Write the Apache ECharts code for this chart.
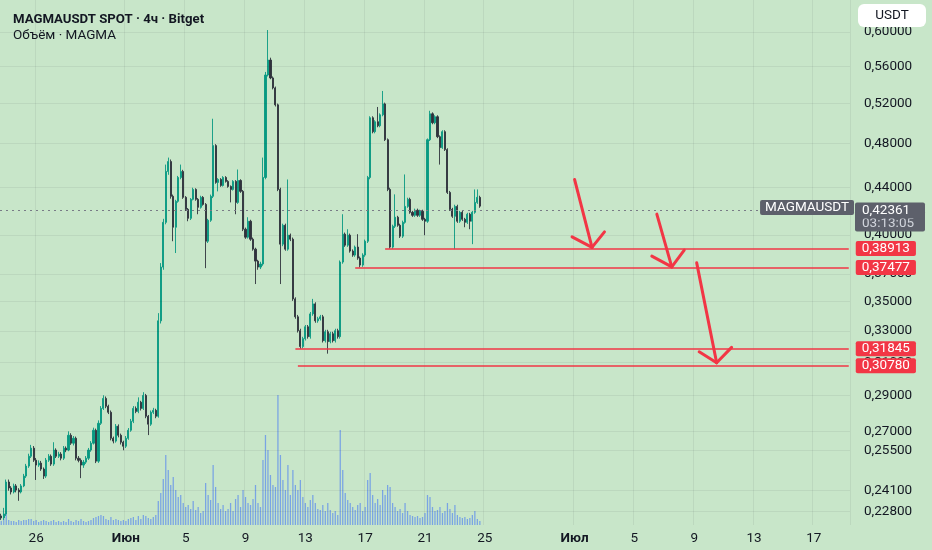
<!DOCTYPE html>
<html><head><meta charset="utf-8">
<script src="https://cdn.jsdelivr.net/npm/echarts@6/dist/echarts.min.js"></script>
<style>html,body{margin:0;padding:0;background:#c8e6c9}#c{width:932px;height:550px}</style>
</head><body><div id="c"></div><script>
// ---------- DATA ----------
const slotStart = Date.UTC(2025, 4, 23, 16); // first 4h slot: 23 May 16:00
const slotCount = 341;
const categories = [];
for (let i = 0; i < slotCount; i++) {
  const d = new Date(slotStart + i * 4 * 3600 * 1000);
  const p = n => String(n).padStart(2, '0');
  categories.push(p(d.getUTCMonth() + 1) + '-' + p(d.getUTCDate()) + ' ' + p(d.getUTCHours()) + ':00');
}
const xTickCats = ['05-26 00:00','06-01 00:00','06-05 00:00','06-09 00:00','06-13 00:00','06-17 00:00','06-21 00:00','06-25 00:00','07-01 00:00','07-05 00:00','07-09 00:00','07-13 00:00','07-17 00:00'];
const xTickLabels = ['26','Июн','5','9','13','17','21','25','Июл','5','9','13','17'];
const yTicks = [0.228,0.241,0.255,0.27,0.29,0.31,0.33,0.35,0.37,0.40,0.44,0.48,0.52,0.56,0.60];

const opens = [
.2280,.2271,.2289,.2440,.2411,.2392,.2421,.2401,.2392,.2421,
.2469,.2519,.2569,.2611,.2549,.2524,.2534,.2504,.2469,.2549,
.2569,.2529,.2601,.2569,.2580,.2559,.2611,.2601,.2679,.2637,
.2663,.2559,.2548,.2524,.2539,.2559,.2601,.2637,.2706,.2544,
.2744,.2827,.2884,.2839,.2805,.2663,.2648,.2728,.2679,.2642,
.2621,.2663,.2706,.2755,.2827,.2810,.2862,.2827,.2901,.2783,
.2739,.2805,.2816,.2783,.3368,.3750,.4101,.4540,.4631,.4320,
.4061,.4277,.4486,.4540,.4311,.4209,.4134,.4294,.4380,.4294,
.4226,.4311,.4251,.3949,.4118,.4320,.4781,.4442,.4468,.4415,
.4486,.4451,.4406,.4380,.4451,.4268,.4459,.4363,.4045,.3981,
.4110,.3965,.3887,.3795,.3750,.3773,.4486,.5506,.5673,.5474,
.5366,.5187,.4380,.3926,.4077,.3887,.3997,.3965,.3519,.3395,
.3302,.3199,.3250,.3328,.3263,.3415,.3484,.3368,.3382,.3395,
.3237,.3295,.3231,.3282,.3237,.3302,.3263,.3788,.4005,.3918,
.3997,.3872,.3841,.3903,.3818,.3765,.3841,.3949,.4486,.5055,
.4916,.5015,.4975,.5085,.5197,.4838,.4380,.3903,.4069,.4143,
.4077,.3989,.4101,.4234,.4294,.4184,.4159,.4201,.4159,.4193,
.4126,.4110,.4838,.5095,.5005,.5065,.4867,.4762,.4916,.4743,
.4354,.4209,.4151,.4234,.4110,.4184,.4126,.4101,.4168,.4110,
.4184,.4268,.4311];
const closes = [
.2271,.2289,.2440,.2411,.2392,.2421,.2401,.2392,.2421,.2469,
.2519,.2569,.2611,.2549,.2524,.2534,.2504,.2469,.2549,.2569,
.2529,.2601,.2569,.2580,.2559,.2611,.2601,.2679,.2637,.2663,
.2559,.2548,.2524,.2539,.2559,.2601,.2637,.2706,.2544,.2744,
.2827,.2884,.2839,.2805,.2663,.2648,.2728,.2679,.2642,.2621,
.2663,.2706,.2755,.2827,.2810,.2862,.2827,.2901,.2783,.2739,
.2805,.2816,.2783,.3368,.3750,.4101,.4540,.4631,.4320,.4061,
.4277,.4486,.4540,.4311,.4209,.4134,.4294,.4380,.4294,.4226,
.4311,.4251,.3949,.4118,.4320,.4781,.4442,.4468,.4415,.4486,
.4451,.4406,.4380,.4451,.4268,.4459,.4363,.4045,.3981,.4110,
.3965,.3887,.3795,.3750,.3773,.4486,.5506,.5673,.5474,.5366,
.5187,.4380,.3926,.4077,.3887,.3997,.3965,.3519,.3395,.3302,
.3199,.3250,.3328,.3263,.3415,.3484,.3368,.3382,.3395,.3237,
.3295,.3231,.3282,.3237,.3302,.3263,.3788,.4005,.3918,.3997,
.3872,.3841,.3903,.3818,.3765,.3841,.3949,.4486,.5055,.4916,
.5015,.4975,.5085,.5197,.4838,.4380,.3903,.4069,.4143,.4077,
.3989,.4101,.4234,.4294,.4184,.4159,.4201,.4159,.4193,.4126,
.4110,.4838,.5095,.5005,.5065,.4867,.4762,.4916,.4743,.4354,
.4209,.4151,.4234,.4110,.4184,.4126,.4101,.4168,.4110,.4184,
.4268,.4311,.42361];
const lows = [
.2262,.2262,.2280,.2398,.2380,.2385,.2390,.2350,.2385,.2415,
.2460,.2510,.2560,.2540,.2450,.2515,.2495,.2455,.2460,.2540,
.2520,.2520,.2560,.2560,.2548,.2550,.2590,.2595,.2628,.2625,
.2548,.2538,.2459,.2510,.2530,.2550,.2592,.2630,.2534,.2535,
.2735,.2818,.2828,.2795,.2652,.2636,.2640,.2668,.2630,.2600,
.2612,.2655,.2698,.2745,.2800,.2800,.2815,.2818,.2772,.2680,
.2730,.2795,.2772,.2775,.3350,.3730,.4085,.4510,.4300,.3949,
.3857,.4265,.4470,.4298,.4195,.4110,.4120,.4285,.4282,.4168,
.4215,.4240,.3742,.3935,.4105,.4305,.4430,.4363,.4403,.4405,
.4440,.4395,.4268,.4370,.4168,.4255,.4350,.4030,.3968,.3970,
.3952,.3875,.3625,.3730,.3735,.3760,.4470,.5490,.5460,.5350,
.5170,.4365,.3625,.3910,.3875,.3875,.3950,.3505,.3382,.3290,
.31845,.3188,.3238,.3250,.3250,.3402,.3355,.3355,.3370,.3225,
.3225,.3154,.3220,.3225,.3225,.3250,.3250,.3775,.3905,.3905,
.3860,.3828,.3828,.3805,.37477,.3752,.3828,.3935,.4470,.4900,
.4900,.4960,.4960,.5070,.4825,.4365,.38913,.3890,.4055,.4065,
.3975,.3975,.4090,.4222,.4172,.4146,.4146,.4146,.4146,.4113,
.3997,.4097,.4825,.4990,.4990,.4853,.4603,.4750,.4730,.4340,
.4196,.4138,.3887,.4097,.4097,.4113,.4061,.4088,.4045,.3926,
.4172,.4255,.4222];
const highs = [
.2290,.2317,.2452,.2452,.2420,.2432,.2430,.2410,.2430,.2480,
.2530,.2582,.2628,.2622,.2560,.2548,.2545,.2512,.2560,.2580,
.2578,.2642,.2610,.2592,.2590,.2622,.2620,.2700,.2690,.2675,
.2672,.2570,.2558,.2550,.2570,.2612,.2648,.2720,.2715,.2760,
.2840,.2902,.2895,.2848,.2815,.2672,.2740,.2738,.2688,.2650,
.2675,.2718,.2768,.2840,.2838,.2890,.2870,.2920,.2910,.2790,
.2815,.2830,.2825,.3420,.3780,.4130,.4603,.4668,.4650,.4335,
.4290,.4500,.4603,.4555,.4322,.4220,.4305,.4395,.4390,.4305,
.4325,.4322,.4262,.4130,.4335,.5045,.4795,.4480,.4480,.4498,
.4498,.4462,.4415,.4462,.4462,.4558,.4470,.4375,.4058,.4143,
.4122,.3978,.3898,.3805,.3790,.4668,.5540,.6024,.5700,.5490,
.5380,.5200,.4395,.4090,.4090,.4468,.4010,.3978,.3530,.3408,
.3315,.3262,.3340,.3340,.3428,.3519,.3495,.3395,.3408,.3408,
.3308,.3308,.3295,.3295,.3315,.3315,.3800,.4168,.4018,.4045,
.4010,.3885,.3915,.4005,.3830,.3855,.3962,.4500,.5070,.5070,
.5030,.5165,.5100,.5333,.5210,.4850,.4395,.4082,.4337,.4155,
.4090,.4115,.4513,.4308,.4308,.4196,.4215,.4215,.4206,.4206,
.4138,.4850,.5126,.5110,.5080,.5080,.4880,.4930,.4930,.4756,
.4367,.4222,.4248,.4248,.4196,.4196,.4138,.4180,.4180,.4196,
.4380,.4380,.4325];
// volume, thousands of MAGMA
const volumes = [
4,6,14,5,4,4,3,5,4,5,
5,6,6,4,5,3,4,5,4,3,
4,5,3,4,3,4,3,6,4,3,
5,4,6,4,3,4,5,7,8,9,
10,9,6,5,8,5,6,5,4,5,
4,6,7,8,5,9,6,10,9,7,
6,8,10,24,32,46,70,55,40,48,
35,28,30,22,18,20,16,24,15,18,
12,14,42,30,25,60,38,22,16,20,
14,16,22,14,26,30,18,35,28,22,
20,26,40,22,18,65,90,75,50,40,
38,130,70,45,35,60,30,55,40,35,
45,28,22,18,25,30,22,16,15,20,
14,22,15,12,14,10,95,55,32,25,
22,18,15,20,22,14,18,45,52,30,
22,26,20,35,30,40,38,22,18,14,
16,12,22,14,10,9,8,9,7,8,
12,30,28,18,14,15,18,12,14,22,
16,12,20,10,8,7,8,6,7,10,
14,6,4];

const lastPrice = 0.42361;
const countdown = '03:13:05';
// support levels: [start slot index, price]
const levelStarts = [154, 142, 118, 119];
const levelPrices = [0.38913, 0.37477, 0.31845, 0.30780];
const levelEnd = 340;
// arrows: tail [slot, price], tip, head-left, head-right
const arrowTails = [[230,0.4468],[263,0.4169],[279,0.3782]];
const arrowTips  = [[237,0.3901],[269,0.3752],[287,0.3097]];
const arrowHeadL = [[229,0.3984],[261,0.3833],[280,0.3166]];
const arrowHeadR = [[242,0.4024],[274,0.3880],[293,0.3194]];

// ---------- CHART ----------
const fmt = v => v.toFixed(5).replace('.', ',');
const candleData = opens.map((o, i) => [o, closes[i], lows[i], highs[i]]);
const tickSet = new Set(xTickCats);
const FONT = 'Roboto, "Noto Sans", sans-serif';
const RED = '#f23645';
const GRID = 'rgba(42,46,57,0.07)';
const TAG = '#5d606b';

const tickLines = yTicks.map(v => ({
  yAxis: v,
  lineStyle: {color: GRID, width: 1, type: 'solid'},
  label: {show: true, position: 'end', distance: 14, formatter: fmt(v), color: '#131722', fontSize: 13.5, fontFamily: FONT}
}));

const annot = [];
// countdown box (drawn first, under the price box)
annot.push({
  yAxis: lastPrice,
  lineStyle: {color: 'rgba(0,0,0,0)', width: 1, type: 'solid'},
  label: {show: true, position: 'end', distance: 5, formatter: countdown, color: '#d1d4dc', fontSize: 13.5, fontFamily: FONT,
    verticalAlign: 'top', backgroundColor: TAG, padding: [7, 7, 2, 7], width: 56, lineHeight: 12, borderRadius: 2}
});
annot.push({
  yAxis: lastPrice,
  lineStyle: {color: '#787b86', width: 1.2, type: [2, 4]},
  label: {show: true, position: 'end', distance: 5, formatter: fmt(lastPrice), color: '#ffffff', fontSize: 13.5, fontFamily: FONT,
    verticalAlign: 'middle', backgroundColor: TAG, padding: [2, 7, 1, 7], width: 56, lineHeight: 13, borderRadius: 2}
});
annot.push({
  yAxis: lastPrice,
  lineStyle: {color: 'rgba(0,0,0,0)', width: 1, type: 'solid'},
  label: {show: true, position: 'insideEndTop', distance: [-4, 3], formatter: 'MAGMAUSDT', color: '#ffffff', fontSize: 13.5, fontFamily: FONT,
    backgroundColor: TAG, padding: [1, 5, 0, 5], borderRadius: 2, verticalAlign: 'middle'}
});
levelPrices.forEach((p, i) => {
  annot.push([
    {coord: [categories[levelStarts[i]], p], lineStyle: {color: RED, width: 1.6, type: 'solid'},
     label: {show: true, position: 'end', distance: 7, formatter: fmt(p), color: '#ffffff', fontSize: 13.5, fontFamily: FONT,
       backgroundColor: RED, padding: [1, 6, 0, 6], lineHeight: 14, borderRadius: 2}},
    {coord: [categories[levelEnd], p]}
  ]);
});
const seg = (a, b) => [
  {coord: [categories[a[0]], a[1]], lineStyle: {color: RED, width: 3, type: 'solid', cap: 'round'}, label: {show: false}},
  {coord: [categories[b[0]], b[1]]}
];
arrowTips.forEach((tip, i) => {
  annot.push(seg(arrowTails[i], tip));
  annot.push(seg(tip, arrowHeadL[i]));
  annot.push(seg(tip, arrowHeadR[i]));
});

const chart = echarts.init(document.getElementById('c'), null, {renderer: 'canvas'});
chart.setOption({
  backgroundColor: '#c8e6c9',
  animation: false,
  textStyle: {fontFamily: FONT},
  title: {
    left: 8, top: 7, itemGap: 0,
    text: 'MAGMAUSDT SPOT · 4ч · Bitget',
    subtext: 'Объём · MAGMA',
    textStyle: {fontSize: 13.2, fontWeight: 'bold', color: '#131722', lineHeight: 16, fontFamily: FONT},
    subtextStyle: {fontSize: 13.5, color: '#131722', lineHeight: 16, fontFamily: FONT}
  },
  grid: {left: 0, right: 82, top: 0, bottom: 25},
  xAxis: {
    type: 'category', data: categories, boundaryGap: true,
    axisLine: {show: false}, axisTick: {show: false},
    axisLabel: {
      interval: (i, v) => tickSet.has(v),
      formatter: v => {
        const l = xTickLabels[xTickCats.indexOf(v)];
        return (l === 'Июн' || l === 'Июл') ? '{b|' + l + '}' : l;
      },
      color: '#131722', fontSize: 13.5, margin: 7, fontFamily: FONT,
      rich: {b: {fontWeight: 'bold', fontSize: 13.5, color: '#131722', fontFamily: FONT}}
    },
    splitLine: {show: true, interval: (i, v) => tickSet.has(v), lineStyle: {color: GRID, width: 1}}
  },
  yAxis: [
    {type: 'log', min: 0.2239, max: 0.6397, position: 'right',
     axisLine: {show: false}, axisTick: {show: false}, axisLabel: {show: false}, splitLine: {show: false}},
    {type: 'value', min: 0, max: 525, show: false, splitLine: {show: false}}
  ],
  graphic: [
    {type: 'rect', shape: {x: 858, y: 4, width: 68, height: 23, r: 6}, style: {fill: '#ffffff'}, z: 100},
    {type: 'text', x: 892, y: 15.5, style: {text: 'USDT', fill: '#131722', font: '13.5px ' + FONT, textAlign: 'center', textVerticalAlign: 'middle'}, z: 101}
  ],
  series: [
    {type: 'line', data: [], yAxisIndex: 0, z: 0, silent: true,
     markLine: {silent: true, symbol: ['none', 'none'], animation: false, data: tickLines}},
    {type: 'bar', name: 'Объём', data: volumes, yAxisIndex: 1, barWidth: '50%', z: 1, silent: true,
     itemStyle: {color: 'rgba(41,98,255,0.5)'}},
    {type: 'candlestick', name: 'MAGMAUSDT', data: candleData, yAxisIndex: 0, barWidth: 1.6, z: 3, silent: true,
     itemStyle: {color: '#089981', color0: '#2f323c', borderColor: '#089981', borderColor0: '#2f323c', borderWidth: 0.9}},
    {type: 'line', data: [], yAxisIndex: 0, z: 5, silent: true,
     markLine: {silent: true, symbol: ['none', 'none'], animation: false, data: annot}}
  ]
});
</script></body></html>
